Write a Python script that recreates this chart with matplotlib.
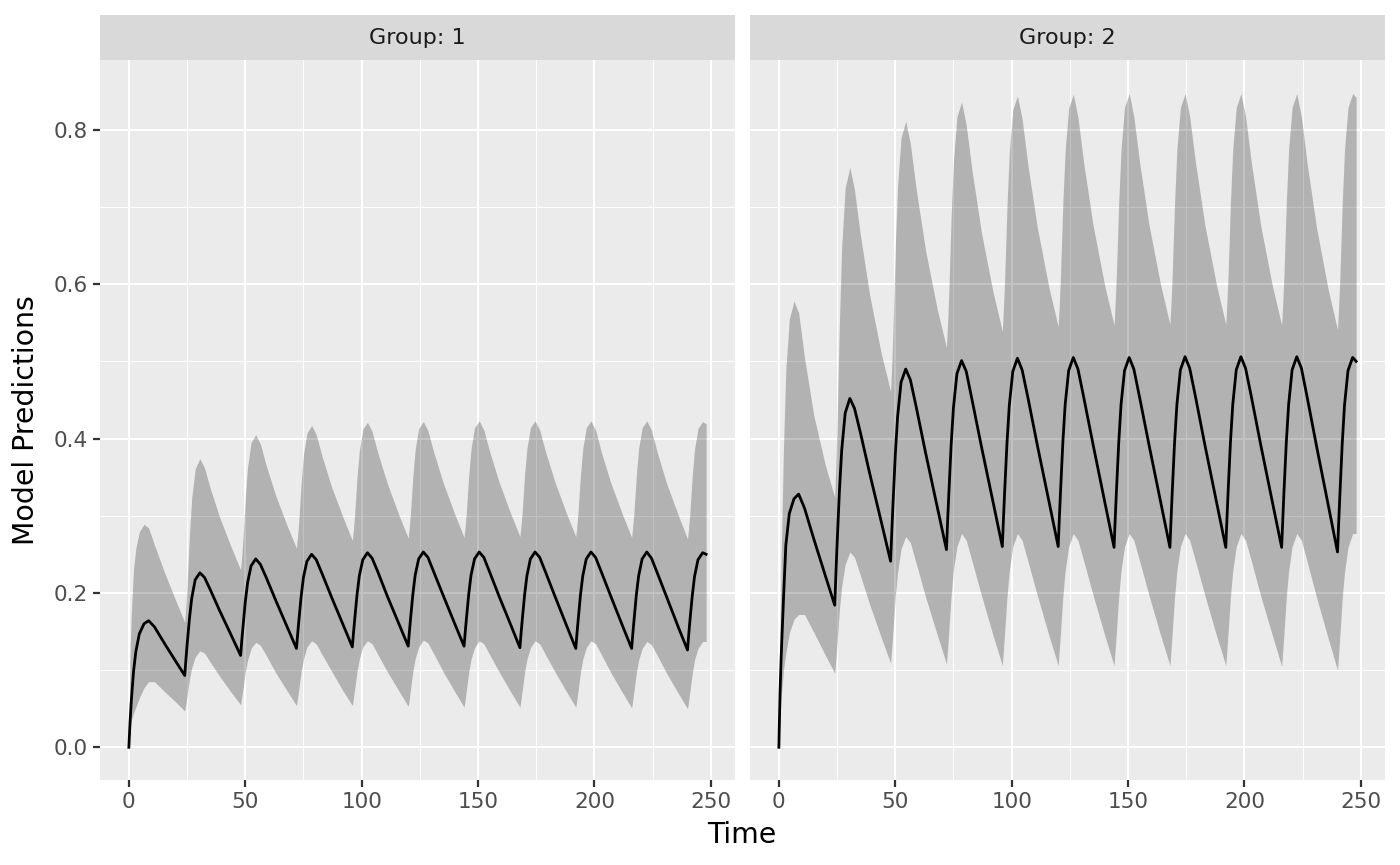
import matplotlib
matplotlib.use("Agg")
import matplotlib.pyplot as plt
from matplotlib.ticker import MultipleLocator, FormatStrFormatter

# sampling hours inside each 24 h dosing interval
hours = [0, 0.5, 1, 2, 3, 4.5, 6.5, 8.5, 11, 15, 20]
last_hours = [0, 0.5, 1, 2, 3, 4.5, 6.5, 8]
doses = [0, 24, 48, 72, 96, 120, 144, 168, 192, 216, 240]

time = [d + h for d in doses[:-1] for h in hours] + [doses[-1] + h for h in last_hours]

groups = ["Group: 1", "Group: 2"]

g1_pred = [
    [0.000, 0.032, 0.058, 0.098, 0.124, 0.147, 0.160, 0.164, 0.156, 0.136, 0.112],
    [0.093, 0.113, 0.132, 0.166, 0.193, 0.217, 0.226, 0.220, 0.204, 0.177, 0.145],
    [0.119, 0.138, 0.155, 0.188, 0.213, 0.235, 0.244, 0.237, 0.220, 0.191, 0.156],
    [0.128, 0.146, 0.163, 0.195, 0.220, 0.241, 0.250, 0.243, 0.225, 0.195, 0.159],
    [0.130, 0.148, 0.165, 0.197, 0.222, 0.243, 0.252, 0.245, 0.227, 0.196, 0.160],
    [0.131, 0.149, 0.166, 0.198, 0.223, 0.244, 0.253, 0.246, 0.227, 0.197, 0.160],
    [0.131, 0.149, 0.166, 0.198, 0.223, 0.244, 0.253, 0.246, 0.227, 0.196, 0.159],
    [0.129, 0.148, 0.165, 0.197, 0.222, 0.244, 0.253, 0.246, 0.227, 0.196, 0.158],
    [0.128, 0.147, 0.164, 0.197, 0.222, 0.244, 0.253, 0.246, 0.227, 0.196, 0.158],
    [0.128, 0.147, 0.164, 0.197, 0.222, 0.244, 0.253, 0.245, 0.226, 0.195, 0.156],
    [0.126, 0.145, 0.163, 0.195, 0.221, 0.243, 0.252, 0.250],
]
g1_upper = [
    [0.000, 0.120, 0.170, 0.230, 0.258, 0.279, 0.289, 0.284, 0.262, 0.229, 0.191],
    [0.162, 0.183, 0.209, 0.274, 0.323, 0.361, 0.374, 0.362, 0.335, 0.298, 0.259],
    [0.230, 0.248, 0.269, 0.323, 0.363, 0.395, 0.405, 0.393, 0.365, 0.327, 0.287],
    [0.258, 0.274, 0.293, 0.342, 0.379, 0.407, 0.417, 0.405, 0.377, 0.338, 0.298],
    [0.268, 0.283, 0.302, 0.349, 0.384, 0.412, 0.421, 0.409, 0.381, 0.342, 0.301],
    [0.271, 0.286, 0.304, 0.351, 0.386, 0.413, 0.422, 0.410, 0.382, 0.343, 0.302],
    [0.272, 0.287, 0.305, 0.352, 0.387, 0.414, 0.423, 0.411, 0.383, 0.344, 0.303],
    [0.273, 0.288, 0.306, 0.353, 0.387, 0.414, 0.423, 0.411, 0.383, 0.344, 0.303],
    [0.273, 0.288, 0.306, 0.353, 0.387, 0.414, 0.423, 0.411, 0.382, 0.343, 0.302],
    [0.272, 0.287, 0.305, 0.352, 0.387, 0.414, 0.423, 0.411, 0.382, 0.342, 0.301],
    [0.270, 0.285, 0.303, 0.351, 0.386, 0.413, 0.422, 0.419],
]
g1_lower = [
    [0.000, 0.022, 0.034, 0.044, 0.052, 0.064, 0.077, 0.085, 0.085, 0.073, 0.059],
    [0.047, 0.056, 0.067, 0.088, 0.103, 0.117, 0.125, 0.122, 0.110, 0.092, 0.071],
    [0.055, 0.065, 0.075, 0.097, 0.113, 0.128, 0.136, 0.132, 0.119, 0.097, 0.073],
    [0.054, 0.064, 0.075, 0.098, 0.114, 0.130, 0.138, 0.134, 0.120, 0.099, 0.073],
    [0.054, 0.064, 0.075, 0.098, 0.114, 0.130, 0.138, 0.134, 0.120, 0.098, 0.073],
    [0.053, 0.063, 0.075, 0.098, 0.115, 0.130, 0.139, 0.135, 0.121, 0.098, 0.072],
    [0.052, 0.062, 0.074, 0.097, 0.114, 0.129, 0.138, 0.134, 0.120, 0.098, 0.072],
    [0.052, 0.062, 0.074, 0.097, 0.114, 0.129, 0.138, 0.134, 0.120, 0.098, 0.072],
    [0.052, 0.062, 0.074, 0.097, 0.114, 0.129, 0.138, 0.134, 0.120, 0.097, 0.071],
    [0.051, 0.061, 0.073, 0.096, 0.113, 0.128, 0.137, 0.133, 0.119, 0.096, 0.070],
    [0.050, 0.060, 0.072, 0.095, 0.113, 0.128, 0.137, 0.137],
]

g2_pred = [
    [0.000, 0.070, 0.118, 0.193, 0.262, 0.303, 0.322, 0.328, 0.310, 0.270, 0.222],
    [0.184, 0.224, 0.262, 0.331, 0.385, 0.433, 0.452, 0.439, 0.408, 0.355, 0.292],
    [0.241, 0.278, 0.313, 0.378, 0.428, 0.473, 0.490, 0.476, 0.441, 0.382, 0.312],
    [0.256, 0.293, 0.327, 0.391, 0.440, 0.484, 0.501, 0.487, 0.450, 0.390, 0.318],
    [0.260, 0.297, 0.331, 0.394, 0.443, 0.487, 0.504, 0.489, 0.453, 0.392, 0.319],
    [0.260, 0.297, 0.331, 0.395, 0.444, 0.488, 0.505, 0.490, 0.453, 0.392, 0.318],
    [0.259, 0.296, 0.330, 0.394, 0.444, 0.488, 0.505, 0.490, 0.453, 0.392, 0.318],
    [0.259, 0.296, 0.331, 0.395, 0.444, 0.489, 0.506, 0.491, 0.454, 0.392, 0.318],
    [0.259, 0.296, 0.331, 0.395, 0.444, 0.489, 0.506, 0.491, 0.454, 0.392, 0.318],
    [0.259, 0.296, 0.331, 0.395, 0.444, 0.489, 0.506, 0.491, 0.453, 0.390, 0.314],
    [0.253, 0.291, 0.326, 0.392, 0.443, 0.488, 0.505, 0.500],
]
g2_upper = [
    [0.000, 0.150, 0.250, 0.390, 0.490, 0.555, 0.578, 0.563, 0.505, 0.430, 0.365],
    [0.324, 0.367, 0.418, 0.550, 0.649, 0.725, 0.751, 0.722, 0.664, 0.586, 0.510],
    [0.461, 0.496, 0.538, 0.647, 0.727, 0.790, 0.811, 0.782, 0.723, 0.644, 0.568],
    [0.518, 0.550, 0.588, 0.687, 0.760, 0.817, 0.836, 0.806, 0.747, 0.667, 0.590],
    [0.539, 0.570, 0.606, 0.701, 0.771, 0.826, 0.844, 0.814, 0.754, 0.674, 0.596],
    [0.545, 0.575, 0.611, 0.705, 0.774, 0.828, 0.846, 0.816, 0.756, 0.676, 0.598],
    [0.547, 0.577, 0.613, 0.706, 0.775, 0.829, 0.847, 0.817, 0.757, 0.677, 0.599],
    [0.548, 0.578, 0.614, 0.706, 0.775, 0.829, 0.847, 0.817, 0.757, 0.677, 0.599],
    [0.548, 0.578, 0.614, 0.706, 0.775, 0.829, 0.847, 0.817, 0.757, 0.676, 0.598],
    [0.547, 0.577, 0.613, 0.706, 0.775, 0.829, 0.847, 0.816, 0.755, 0.673, 0.593],
    [0.541, 0.572, 0.608, 0.703, 0.774, 0.829, 0.847, 0.842],
]
g2_lower = [
    [0.000, 0.040, 0.065, 0.100, 0.122, 0.148, 0.166, 0.172, 0.172, 0.149, 0.119],
    [0.096, 0.115, 0.135, 0.178, 0.209, 0.237, 0.253, 0.246, 0.223, 0.185, 0.142],
    [0.109, 0.129, 0.150, 0.194, 0.227, 0.257, 0.273, 0.265, 0.238, 0.195, 0.146],
    [0.108, 0.128, 0.150, 0.196, 0.230, 0.260, 0.277, 0.268, 0.241, 0.197, 0.145],
    [0.106, 0.127, 0.149, 0.195, 0.229, 0.260, 0.277, 0.268, 0.241, 0.197, 0.145],
    [0.106, 0.127, 0.149, 0.195, 0.229, 0.260, 0.277, 0.268, 0.241, 0.197, 0.145],
    [0.106, 0.127, 0.149, 0.195, 0.229, 0.260, 0.277, 0.268, 0.241, 0.197, 0.145],
    [0.106, 0.127, 0.149, 0.195, 0.229, 0.260, 0.277, 0.268, 0.241, 0.197, 0.145],
    [0.106, 0.127, 0.149, 0.195, 0.229, 0.260, 0.277, 0.268, 0.241, 0.196, 0.145],
    [0.105, 0.126, 0.148, 0.194, 0.229, 0.260, 0.277, 0.268, 0.240, 0.194, 0.141],
    [0.100, 0.121, 0.144, 0.192, 0.227, 0.259, 0.277, 0.277],
]


def flat(rows):
    return [v for r in rows for v in r]


series = [
    (flat(g1_pred), flat(g1_lower), flat(g1_upper)),
    (flat(g2_pred), flat(g2_lower), flat(g2_upper)),
]

fig = plt.figure(figsize=(14, 8.65), dpi=100)

panel_w = 635 / 1400
panel_b = 85 / 865
panel_h = 720 / 865
lefts = [100 / 1400, 750 / 1400]

for i, (pred, lo, hi) in enumerate(series):
    ax = fig.add_axes([lefts[i], panel_b, panel_w, panel_h])
    ax.set_facecolor("#EBEBEB")
    for s in ax.spines.values():
        s.set_visible(False)

    ax.fill_between(time, lo, hi, color="black", alpha=0.24, linewidth=0)
    ax.plot(time, pred, color="black", linewidth=2.0, solid_joinstyle="round")

    ax.set_xlim(-12.4, 260.4)
    ax.set_ylim(-0.0424, 0.8904)
    ax.xaxis.set_major_locator(MultipleLocator(50))
    ax.xaxis.set_minor_locator(MultipleLocator(25))
    ax.yaxis.set_major_locator(MultipleLocator(0.2))
    ax.yaxis.set_minor_locator(MultipleLocator(0.1))
    ax.yaxis.set_major_formatter(FormatStrFormatter("%.1f"))
    ax.set_axisbelow(True)
    ax.grid(which="major", color="white", linewidth=1.45)
    ax.grid(which="minor", color="white", linewidth=0.7)

    ax.tick_params(which="major", length=5, width=1.6, color="#333333",
                   labelcolor="#4D4D4D", labelsize=15.5, pad=4)
    ax.tick_params(which="minor", length=0)
    if i == 1:
        ax.tick_params(axis="y", left=False, labelleft=False)

    strip = fig.add_axes([lefts[i], 805 / 865, panel_w, 45 / 865])
    strip.set_facecolor("#D9D9D9")
    strip.set_xticks([])
    strip.set_yticks([])
    for s in strip.spines.values():
        s.set_visible(False)
    strip.text(0.5, 0.5, groups[i], ha="center", va="center",
               fontsize=16, color="#1A1A1A", transform=strip.transAxes)

fig.text(742 / 1400, 22 / 865, "Time", ha="center", va="baseline", fontsize=20.4)
fig.text(26 / 1400, 445 / 865, "Model Predictions", ha="center", va="center",
         rotation=90, fontsize=20.4)

fig.savefig("out.png", dpi=100)
